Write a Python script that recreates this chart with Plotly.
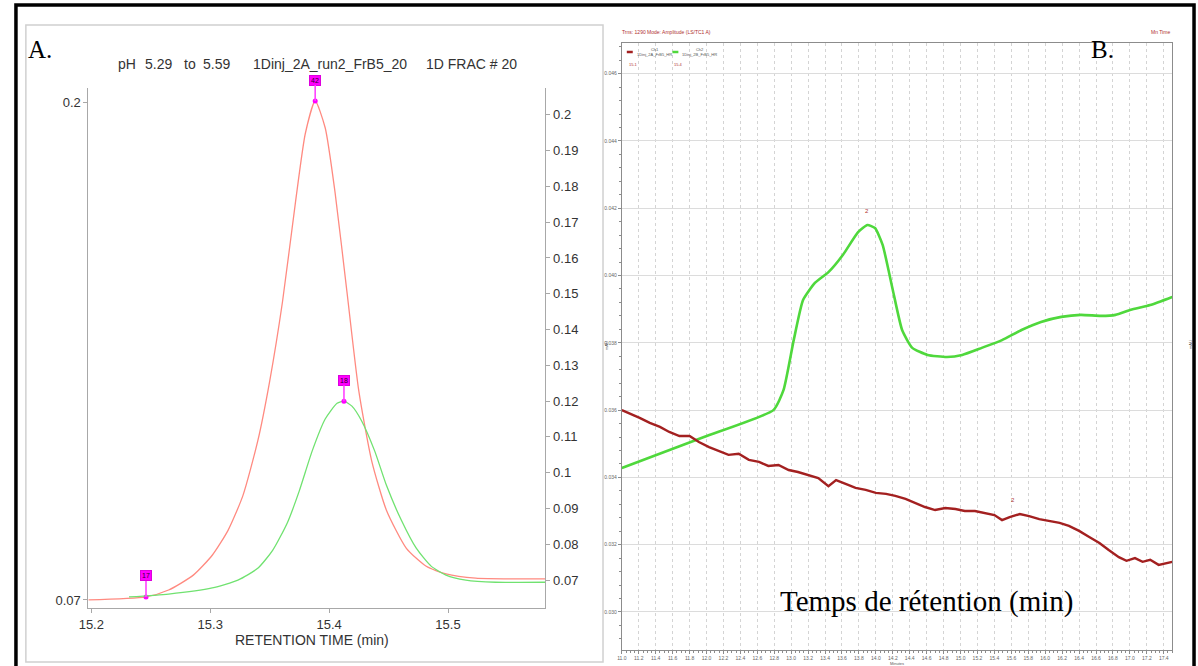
import plotly.graph_objects as go

W, H = 1198, 666

# ---------------- Panel A data ----------------
a_red_t = [15.1975, 15.2458, 15.265, 15.2858, 15.3017, 15.315, 15.3275, 15.34, 15.35, 15.3608,
           15.3717, 15.38, 15.3883, 15.3967, 15.405, 15.415, 15.425, 15.4358, 15.4483, 15.465,
           15.4817, 15.4983, 15.5233, 15.5817]
a_red_v = [0.0700, 0.0708, 0.0726, 0.0765, 0.0817, 0.0882, 0.0973, 0.1116, 0.1272, 0.1480,
           0.1740, 0.1920, 0.2005, 0.1935, 0.1766, 0.1506, 0.1246, 0.1064, 0.0934, 0.0835,
           0.0788, 0.0768, 0.0757, 0.0755]

a_green_t = [15.2317, 15.265, 15.3017, 15.3233, 15.34, 15.3525, 15.365, 15.375, 15.3858, 15.3967,
             15.4067, 15.4125, 15.4192, 15.4275, 15.4383, 15.4483, 15.4608, 15.4733, 15.4858,
             15.4983, 15.515, 15.54, 15.5817]
a_green_v = [0.0653, 0.0661, 0.0678, 0.0700, 0.0733, 0.0783, 0.0861, 0.0950, 0.1061, 0.1150,
             0.1194, 0.1200, 0.1186, 0.1144, 0.1061, 0.0964, 0.0867, 0.0789, 0.0739,
             0.0714, 0.0700, 0.0694, 0.0694]

peaks_left_labels = ["17", "42"]
peaks_left_t = [15.246, 15.3883]
peaks_left_v = [0.0708, 0.2005]
peaks_right_labels = ["18"]
peaks_right_t = [15.4125]
peaks_right_v = [0.1200]

a_xticks = [15.2, 15.3, 15.4, 15.5]
a_yleft_ticks = [0.07, 0.2]
a_yright_ticks = [0.07, 0.08, 0.09, 0.1, 0.11, 0.12, 0.13, 0.14, 0.15, 0.16, 0.17, 0.18, 0.19, 0.2]

# ---------------- Panel B data ----------------
b_green_t = [11.00, 11.97, 12.79, 12.91, 13.03, 13.14, 13.28, 13.44, 13.61, 13.79, 13.90, 13.99,
             14.08, 14.20, 14.31, 14.43, 14.61, 14.84, 15.02, 15.25, 15.49, 15.72, 15.95, 16.19,
             16.42, 16.66, 16.83, 17.01, 17.24, 17.50]
b_green_v = [0.03428, 0.03520, 0.03600, 0.03660, 0.03808, 0.03927, 0.03978, 0.04010, 0.04061,
             0.04129, 0.04150, 0.04141, 0.04091, 0.03957, 0.03838, 0.03785, 0.03764, 0.03758,
             0.03764, 0.03785, 0.03808, 0.03838, 0.03862, 0.03877, 0.03883, 0.03880, 0.03883,
             0.03898, 0.03912, 0.03936]

b_red_t = [11.00, 11.09, 11.21, 11.33, 11.45, 11.56, 11.68, 11.80, 11.91, 12.03, 12.15, 12.26,
           12.38, 12.50, 12.62, 12.73, 12.85, 12.97, 13.08, 13.20, 13.32, 13.44, 13.53, 13.65,
           13.76, 13.88, 14.00, 14.12, 14.23, 14.35, 14.47, 14.58, 14.70, 14.82, 14.94, 15.05,
           15.17, 15.29, 15.40, 15.49, 15.58, 15.70, 15.81, 15.93, 16.05, 16.17, 16.28, 16.40,
           16.52, 16.64, 16.75, 16.87, 16.96, 17.06, 17.15, 17.24, 17.34, 17.43, 17.50]
b_red_v = [0.03600, 0.03591, 0.03577, 0.03562, 0.03550, 0.03535, 0.03523, 0.03523, 0.03505,
           0.03490, 0.03479, 0.03467, 0.03470, 0.03452, 0.03446, 0.03434, 0.03437, 0.03422,
           0.03416, 0.03407, 0.03398, 0.03374, 0.03392, 0.03380, 0.03369, 0.03363, 0.03354,
           0.03351, 0.03345, 0.03336, 0.03324, 0.03312, 0.03303, 0.03309, 0.03306, 0.03300,
           0.03300, 0.03294, 0.03288, 0.03273, 0.03282, 0.03291, 0.03285, 0.03276, 0.03270,
           0.03265, 0.03256, 0.03241, 0.03223, 0.03205, 0.03184, 0.03163, 0.03152, 0.03160,
           0.03149, 0.03155, 0.03140, 0.03146, 0.03149]

b_peak_labels = ["2", "2"]
b_peak_t = [13.90, 15.62]
b_peak_v = [0.04150, 0.03290]

b_yticks = [0.030, 0.032, 0.034, 0.036, 0.038, 0.040, 0.042, 0.044, 0.046]

# ---------------- figure ----------------
def px(x):
    return x / W

def py(y):
    return 1 - y / H

fig = go.Figure()

RED_A = "#FF8A80"
GREEN_A = "#70E270"
fig.add_trace(go.Scatter(x=a_red_t, y=a_red_v, mode="lines", line=dict(color=RED_A, width=1.3, shape="spline", smoothing=0.6),
                         xaxis="x", yaxis="y", showlegend=False, hoverinfo="skip"))
fig.add_trace(go.Scatter(x=a_green_t, y=a_green_v, mode="lines", line=dict(color=GREEN_A, width=1.3, shape="spline", smoothing=0.6),
                         xaxis="x", yaxis="y2", showlegend=False, hoverinfo="skip"))
fig.add_trace(go.Scatter(x=peaks_left_t, y=peaks_left_v, mode="markers", marker=dict(color="#FF00FF", size=5),
                         xaxis="x", yaxis="y", showlegend=False, hoverinfo="skip"))
fig.add_trace(go.Scatter(x=peaks_right_t, y=peaks_right_v, mode="markers", marker=dict(color="#FF00FF", size=5),
                         xaxis="x", yaxis="y2", showlegend=False, hoverinfo="skip"))

fig.add_trace(go.Scatter(x=b_green_t, y=b_green_v, mode="lines", line=dict(color="#4FD83C", width=2.6, shape="spline", smoothing=0.5),
                         xaxis="x3", yaxis="y3", showlegend=False, hoverinfo="skip"))
fig.add_trace(go.Scatter(x=b_red_t, y=b_red_v, mode="lines", line=dict(color="#A32020", width=2.4),
                         xaxis="x3", yaxis="y3", showlegend=False, hoverinfo="skip"))

axis_gray = "#A8A8A8"
tick_font = dict(family="Liberation Sans, Arial", size=13, color="#333333")
tiny = dict(family="Liberation Sans, Arial", size=5, color="#666666")

fig.update_layout(
    width=W, height=H, margin=dict(l=0, r=0, t=0, b=0),
    paper_bgcolor="white", plot_bgcolor="white",
    xaxis=dict(domain=[px(79), px(540)], range=[15.1975, 15.582], anchor="y",
               tickvals=a_xticks, ticktext=[f"{v:.1f}" for v in a_xticks],
               showline=True, linecolor=axis_gray, ticks="outside", ticklen=4, tickcolor=axis_gray,
               showgrid=False, zeroline=False, tickfont=tick_font),
    yaxis=dict(domain=[py(608), py(88)], range=[0.0679, 0.2039], anchor="x",
               tickvals=a_yleft_ticks, ticktext=["0.07", "0.2"],
               showline=True, linecolor=axis_gray, ticks="outside", ticklen=4, tickcolor=axis_gray,
               showgrid=False, zeroline=False, tickfont=tick_font),
    yaxis2=dict(overlaying="y", side="right", anchor="x", range=[0.0622, 0.2075],
                tickvals=a_yright_ticks, ticktext=[f"{v:g}" for v in a_yright_ticks],
                showline=True, linecolor=axis_gray, ticks="outside", ticklen=4, tickcolor=axis_gray,
                showgrid=False, zeroline=False, tickfont=tick_font),
    xaxis3=dict(domain=[px(617), px(1172)], range=[11.0, 17.5], anchor="y3",
                tick0=11.0, dtick=0.2, tickformat=".1f",
                showgrid=True, gridcolor="#D4D4D4", griddash="dot", gridwidth=1,
                showline=True, mirror=True, linecolor="#8C8C8C", ticks="outside", ticklen=3,
                tickcolor="#8C8C8C", zeroline=False, tickfont=tiny,
                minor=dict(ticks="outside", ticklen=2, dtick=0.05, tickcolor="#8C8C8C", showgrid=False)),
    yaxis3=dict(domain=[py(650), py(43)], range=[0.02887, 0.04691], anchor="x3",
                tickvals=b_yticks, ticktext=[f"{v:.3f}" for v in b_yticks],
                showgrid=True, gridcolor="#DCDCDC", gridwidth=1,
                showline=True, mirror=True, linecolor="#8C8C8C", ticks="outside", ticklen=3,
                tickcolor="#8C8C8C", zeroline=False, tickfont=tiny,
                minor=dict(ticks="outside", ticklen=2, dtick=0.0004, tickcolor="#8C8C8C", showgrid=False)),
    yaxis4=dict(overlaying="y3", side="right", anchor="x3", range=[0.02887, 0.04691],
                tickvals=b_yticks, ticktext=[f"{v:.3f}" for v in b_yticks],
                showgrid=False, showline=False, ticks="outside", ticklen=3, tickcolor="#8C8C8C",
                zeroline=False, tickfont=tiny,
                minor=dict(ticks="outside", ticklen=2, dtick=0.0004, tickcolor="#8C8C8C")),
)

shapes = []
# outer black frame
shapes.append(dict(type="rect", xref="paper", yref="paper", x0=px(6), x1=px(1194), y0=py(672), y1=py(5),
                   line=dict(color="black", width=3.5), layer="above"))
# light gray frame of panel A
shapes.append(dict(type="rect", xref="paper", yref="paper", x0=px(16), x1=px(598), y0=py(662), y1=py(25),
                   line=dict(color="#D0D0D0", width=1.5), layer="below"))
# legend swatches for panel B
shapes.append(dict(type="line", xref="paper", yref="paper", x0=px(622), x1=px(628), y0=py(52), y1=py(52),
                   line=dict(color="#A32020", width=2.5)))
shapes.append(dict(type="line", xref="paper", yref="paper", x0=px(668), x1=px(674), y0=py(52), y1=py(52),
                   line=dict(color="#4FD83C", width=2.5)))
fig.update_layout(shapes=shapes)

ann = []
serif = "Liberation Serif, Times New Roman, serif"
sans = "Liberation Sans, Arial, sans-serif"
ann.append(dict(text="A.", x=px(16), y=py(50), xref="paper", yref="paper", xanchor="left", yanchor="middle",
                showarrow=False, font=dict(family=serif, size=25, color="black")))
ann.append(dict(text="B.", x=px(1088), y=py(50), xref="paper", yref="paper", xanchor="left", yanchor="middle",
                showarrow=False, font=dict(family=serif, size=25, color="black")))
title_parts = [("pH", 107), ("5.29", 134), ("to", 173), ("5.59", 193), ("1Dinj_2A_run2_FrB5_20", 243), ("1D FRAC # 20", 417)]
for txt, x0 in title_parts:
    ann.append(dict(text=txt, x=px(x0), y=py(64), xref="paper", yref="paper", xanchor="left", yanchor="middle",
                    showarrow=False, font=dict(family=sans, size=14, color="#333333")))
ann.append(dict(text="RETENTION TIME (min)", x=px(305), y=py(640), xref="paper", yref="paper",
                xanchor="center", yanchor="middle", showarrow=False, font=dict(family=sans, size=14, color="#333333")))
ann.append(dict(text="Temps de rétention (min)", x=px(925), y=py(601), xref="paper", yref="paper",
                xanchor="center", yanchor="middle", showarrow=False, font=dict(family=serif, size=29, color="black")))

# peak flags panel A
for lab, t, v in zip(peaks_left_labels, peaks_left_t, peaks_left_v):
    ann.append(dict(text=lab, x=t, y=v, xref="x", yref="y", showarrow=True, arrowhead=0, arrowwidth=1.6,
                    arrowcolor="#FF44FF", ax=0, ay=-21, bgcolor="#FF00FF", bordercolor="#DD00DD", borderpad=1,
                    font=dict(family=sans, size=7, color="#300030")))
for lab, t, v in zip(peaks_right_labels, peaks_right_t, peaks_right_v):
    ann.append(dict(text=lab, x=t, y=v, xref="x", yref="y2", showarrow=True, arrowhead=0, arrowwidth=1.6,
                    arrowcolor="#FF44FF", ax=0, ay=-21, bgcolor="#FF00FF", bordercolor="#DD00DD", borderpad=1,
                    font=dict(family=sans, size=7, color="#300030")))

# panel B small texts
bred = "#B03030"
ann.append(dict(text="Trns: 1290 Mode: Amplitude (LS/TC1 A)", x=px(615), y=py(32), xref="paper", yref="paper",
                xanchor="left", yanchor="middle", showarrow=False, font=dict(family=sans, size=5, color=bred)))
ann.append(dict(text="Mn Time", x=px(1172), y=py(32), xref="paper", yref="paper",
                xanchor="right", yanchor="middle", showarrow=False, font=dict(family=sans, size=5, color=bred)))
ann.append(dict(text="Ch1<br>1Dinj_2A_FrB5_HR", x=px(630), y=py(52), xref="paper", yref="paper",
                xanchor="left", yanchor="middle", showarrow=False, font=dict(family=sans, size=4, color="#555555")))
ann.append(dict(text="15.1", x=px(622), y=py(64), xref="paper", yref="paper",
                xanchor="left", yanchor="middle", showarrow=False, font=dict(family=sans, size=4, color=bred)))
ann.append(dict(text="Ch2<br>1Dinj_2B_FrB5_HR", x=px(676), y=py(52), xref="paper", yref="paper",
                xanchor="left", yanchor="middle", showarrow=False, font=dict(family=sans, size=4, color="#555555")))
ann.append(dict(text="15.4", x=px(668), y=py(64), xref="paper", yref="paper",
                xanchor="left", yanchor="middle", showarrow=False, font=dict(family=sans, size=4, color=bred)))
ann.append(dict(text="Minutes", x=px(894), y=py(663), xref="paper", yref="paper",
                xanchor="center", yanchor="middle", showarrow=False, font=dict(family=sans, size=4, color="#555555")))
ann.append(dict(text="mAU", x=px(601), y=py(345), xref="paper", yref="paper", textangle=-90,
                xanchor="center", yanchor="middle", showarrow=False, font=dict(family=sans, size=4, color="#555555")))
ann.append(dict(text="mAU", x=px(1190), y=py(345), xref="paper", yref="paper", textangle=-90,
                xanchor="center", yanchor="middle", showarrow=False, font=dict(family=sans, size=4, color="#555555")))
for lab, t, v in zip(b_peak_labels, b_peak_t, b_peak_v):
    ann.append(dict(text=lab, x=t, y=v, xref="x3", yref="y3", showarrow=False, yshift=14,
                    font=dict(family=sans, size=6, color=bred)))

fig.update_layout(annotations=ann)

fig.write_html("out.html")
